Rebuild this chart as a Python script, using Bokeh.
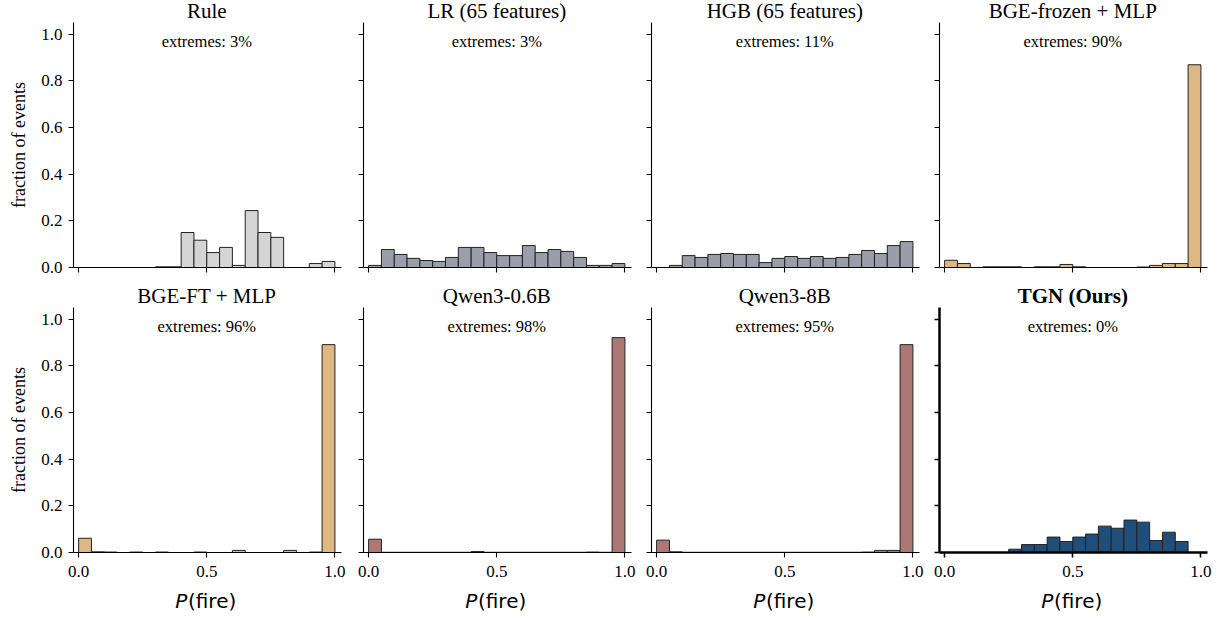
import math
from bokeh.plotting import figure
from bokeh.layouts import row, column
from bokeh.models import Label, FixedTicker, NumeralTickFormatter, Range1d
from bokeh.embed import file_html
from bokeh.resources import INLINE

# ---- data ----
bin_left = [0.00, 0.05, 0.10, 0.15, 0.20, 0.25, 0.30, 0.35, 0.40, 0.45,
            0.50, 0.55, 0.60, 0.65, 0.70, 0.75, 0.80, 0.85, 0.90, 0.95]
bin_right = [0.05, 0.10, 0.15, 0.20, 0.25, 0.30, 0.35, 0.40, 0.45, 0.50,
             0.55, 0.60, 0.65, 0.70, 0.75, 0.80, 0.85, 0.90, 0.95, 1.00]

titles = ["Rule", "LR (65 features)", "HGB (65 features)", "BGE-frozen + MLP",
          "BGE-FT + MLP", "Qwen3-0.6B", "Qwen3-8B", "TGN (Ours)"]
extremes = ["3%", "3%", "11%", "90%", "96%", "98%", "95%", "0%"]

rule = [0, 0, 0, 0, 0, 0, 0.003, 0.003, 0.150, 0.117,
        0.064, 0.086, 0.009, 0.244, 0.150, 0.129, 0, 0, 0.017, 0.026]
lr = [0.009, 0.077, 0.056, 0.039, 0.030, 0.026, 0.043, 0.086, 0.086, 0.064,
      0.051, 0.051, 0.094, 0.064, 0.077, 0.069, 0.043, 0.009, 0.009, 0.017]
hgb = [0, 0.009, 0.051, 0.043, 0.056, 0.060, 0.056, 0.056, 0.021, 0.039,
       0.047, 0.039, 0.047, 0.039, 0.043, 0.056, 0.073, 0.060, 0.094, 0.111]
bge_frozen = [0.031, 0.017, 0, 0.003, 0.003, 0.003, 0, 0.003, 0.003, 0.013,
              0.003, 0, 0, 0, 0, 0.002, 0.009, 0.017, 0.017, 0.869]
bge_ft = [0.061, 0.003, 0.002, 0, 0.002, 0, 0.002, 0, 0, 0.002,
          0, 0, 0.009, 0, 0, 0, 0.009, 0, 0.002, 0.891]
qwen_06b = [0.057, 0.001, 0.001, 0.001, 0.001, 0.001, 0.001, 0.001, 0.004, 0.001,
            0.001, 0.001, 0.001, 0.001, 0.001, 0.001, 0.001, 0.002, 0.001, 0.921]
qwen_8b = [0.053, 0.003, 0.001, 0.001, 0.001, 0.001, 0.001, 0.001, 0.001, 0.001,
           0.001, 0.001, 0.001, 0.001, 0.001, 0.001, 0.002, 0.009, 0.009, 0.891]
tgn = [0, 0, 0, 0, 0, 0.014, 0.034, 0.034, 0.066, 0.047,
       0.066, 0.079, 0.113, 0.104, 0.139, 0.130, 0.051, 0.087, 0.047, 0]

series = [rule, lr, hgb, bge_frozen, bge_ft, qwen_06b, qwen_8b, tgn]
colors = ["#d4d4d4", "#9b9ea8", "#9b9ea8", "#ddb784",
          "#ddb784", "#ab7876", "#ab7876", "#1f4e79"]

y_ticks = [0.0, 0.2, 0.4, 0.6, 0.8, 1.0]
x_ticks = [0.0, 0.5, 1.0]
y_label = "fraction of events"

SERIF = "'Liberation Serif', 'Times New Roman', serif"
SANS = "'DejaVu Sans', sans-serif"

# ---- layout constants (pixels) ----
PX_PER_UNIT = 233.3
FRAME_W = 268
X_RANGE = (-0.02, 1.0257)
AXIS_TOP = 1.05
TITLE_Y = AXIS_TOP + 11.7 / PX_PER_UNIT
EXTREMES_Y = 0.9542 + 3.0 / PX_PER_UNIT
LEFT = [34, 12, 12, 12]
RIGHT = [10, 8, 8, 10]
ROW_FRAME_H = [267, 268]
ROW_BOTTOM = [17, 30]
YLAB_W = 38
XLAB_H = 35
XLAB_BASE = 16.3


def base_fig(c, frame_h, y_rng, left, bottom):
    p = figure(frame_width=FRAME_W, frame_height=frame_h,
               x_range=Range1d(*X_RANGE), y_range=Range1d(*y_rng),
               output_backend="svg", toolbar_location=None, tools="",
               min_border_left=left, min_border_right=RIGHT[c],
               min_border_top=0, min_border_bottom=bottom,
               outline_line_color=None, background_fill_color="white",
               border_fill_color="white")
    p.xgrid.visible = False
    p.ygrid.visible = False
    return p


def make(i):
    r, c = divmod(i, 4)
    ours = (i == 7)
    fh = ROW_FRAME_H[r]
    p = base_fig(c, fh, (0, fh / PX_PER_UNIT), LEFT[c], ROW_BOTTOM[r])

    p.quad(left=bin_left, right=bin_right, bottom=0, top=series[i],
           fill_color=colors[i], line_color="#222222", line_width=1)

    for ax in (p.xaxis[0], p.yaxis[0]):
        ax.axis_line_color = "black"
        ax.axis_line_width = 2.5 if ours else 1.1
        ax.major_tick_line_color = "black"
        ax.major_tick_line_width = 1.6 if ours else 1.1
        ax.major_tick_out = 5
        ax.major_tick_in = 0
        ax.minor_tick_line_color = None
        ax.major_label_text_font = SERIF
        ax.major_label_text_font_size = "17px"
        ax.major_label_text_color = "black"
        ax.major_label_standoff = 6

    p.yaxis.bounds = (0, AXIS_TOP)
    p.yaxis.ticker = FixedTicker(ticks=y_ticks)
    p.yaxis.formatter = NumeralTickFormatter(format="0.0")
    p.xaxis.ticker = FixedTicker(ticks=x_ticks)
    p.xaxis.formatter = NumeralTickFormatter(format="0.0")

    if c != 0:
        p.yaxis.major_label_text_font_size = "0px"
        p.yaxis.major_label_text_color = None
        p.yaxis.major_label_standoff = 0
    if r == 0:
        p.xaxis.major_label_text_font_size = "0px"
        p.xaxis.major_label_text_color = None
        p.xaxis.major_label_standoff = 0
    else:
        p.xaxis.major_label_standoff = 8

    # panel title
    p.add_layout(Label(x=0.5, y=TITLE_Y, text=titles[i],
                       text_font=SERIF, text_font_size="21px",
                       text_font_style="bold" if ours else "normal",
                       text_align="center", text_baseline="alphabetic",
                       text_color="black"))
    # extremes annotation
    p.add_layout(Label(x=0.5, y=EXTREMES_Y, text="extremes: " + extremes[i],
                       text_font=SERIF, text_font_size="16.5px",
                       text_align="center", text_baseline="alphabetic",
                       text_color="black"))
    return p


def ylabel_fig(r):
    total_h = ROW_FRAME_H[r] + ROW_BOTTOM[r]
    p = figure(frame_width=YLAB_W, frame_height=total_h,
               x_range=Range1d(0, YLAB_W), y_range=Range1d(0, total_h),
               output_backend="svg", toolbar_location=None, tools="",
               min_border_left=0, min_border_right=0,
               min_border_top=0, min_border_bottom=0,
               outline_line_color=None, background_fill_color="white",
               border_fill_color="white")
    p.xaxis.visible = False
    p.yaxis.visible = False
    p.xgrid.visible = False
    p.ygrid.visible = False
    zero_from_top = ROW_FRAME_H[r]
    axis_top_from_top = zero_from_top - AXIS_TOP * PX_PER_UNIT
    center_from_top = (zero_from_top + axis_top_from_top) / 2
    p.add_layout(Label(x=18, y=total_h - center_from_top, text=y_label,
                       angle=math.pi / 2, text_font=SERIF,
                       text_font_size="18px", text_align="center",
                       text_baseline="middle", text_color="black"))
    return p


def xlabel_fig(c):
    p = base_fig(c, XLAB_H, (0, XLAB_H), LEFT[c] + (YLAB_W if c == 0 else 0), 0)
    p.xaxis.visible = False
    p.yaxis.visible = False
    p.add_layout(Label(x=0.5, y=XLAB_BASE, x_offset=-30.4, text="P",
                       text_font=SANS, text_font_style="italic",
                       text_font_size="20px", text_align="left",
                       text_baseline="alphabetic", text_color="black"))
    p.add_layout(Label(x=0.5, y=XLAB_BASE, x_offset=-17.8, text="(fire)",
                       text_font=SANS, text_font_size="20px",
                       text_align="left", text_baseline="alphabetic",
                       text_color="black"))
    return p


figs = [make(i) for i in range(8)]
layout = column(
    row(ylabel_fig(0), *figs[:4]),
    row(ylabel_fig(1), *figs[4:]),
    row(*[xlabel_fig(c) for c in range(4)]),
)

open("out.html", "w").write(file_html(layout, INLINE))
